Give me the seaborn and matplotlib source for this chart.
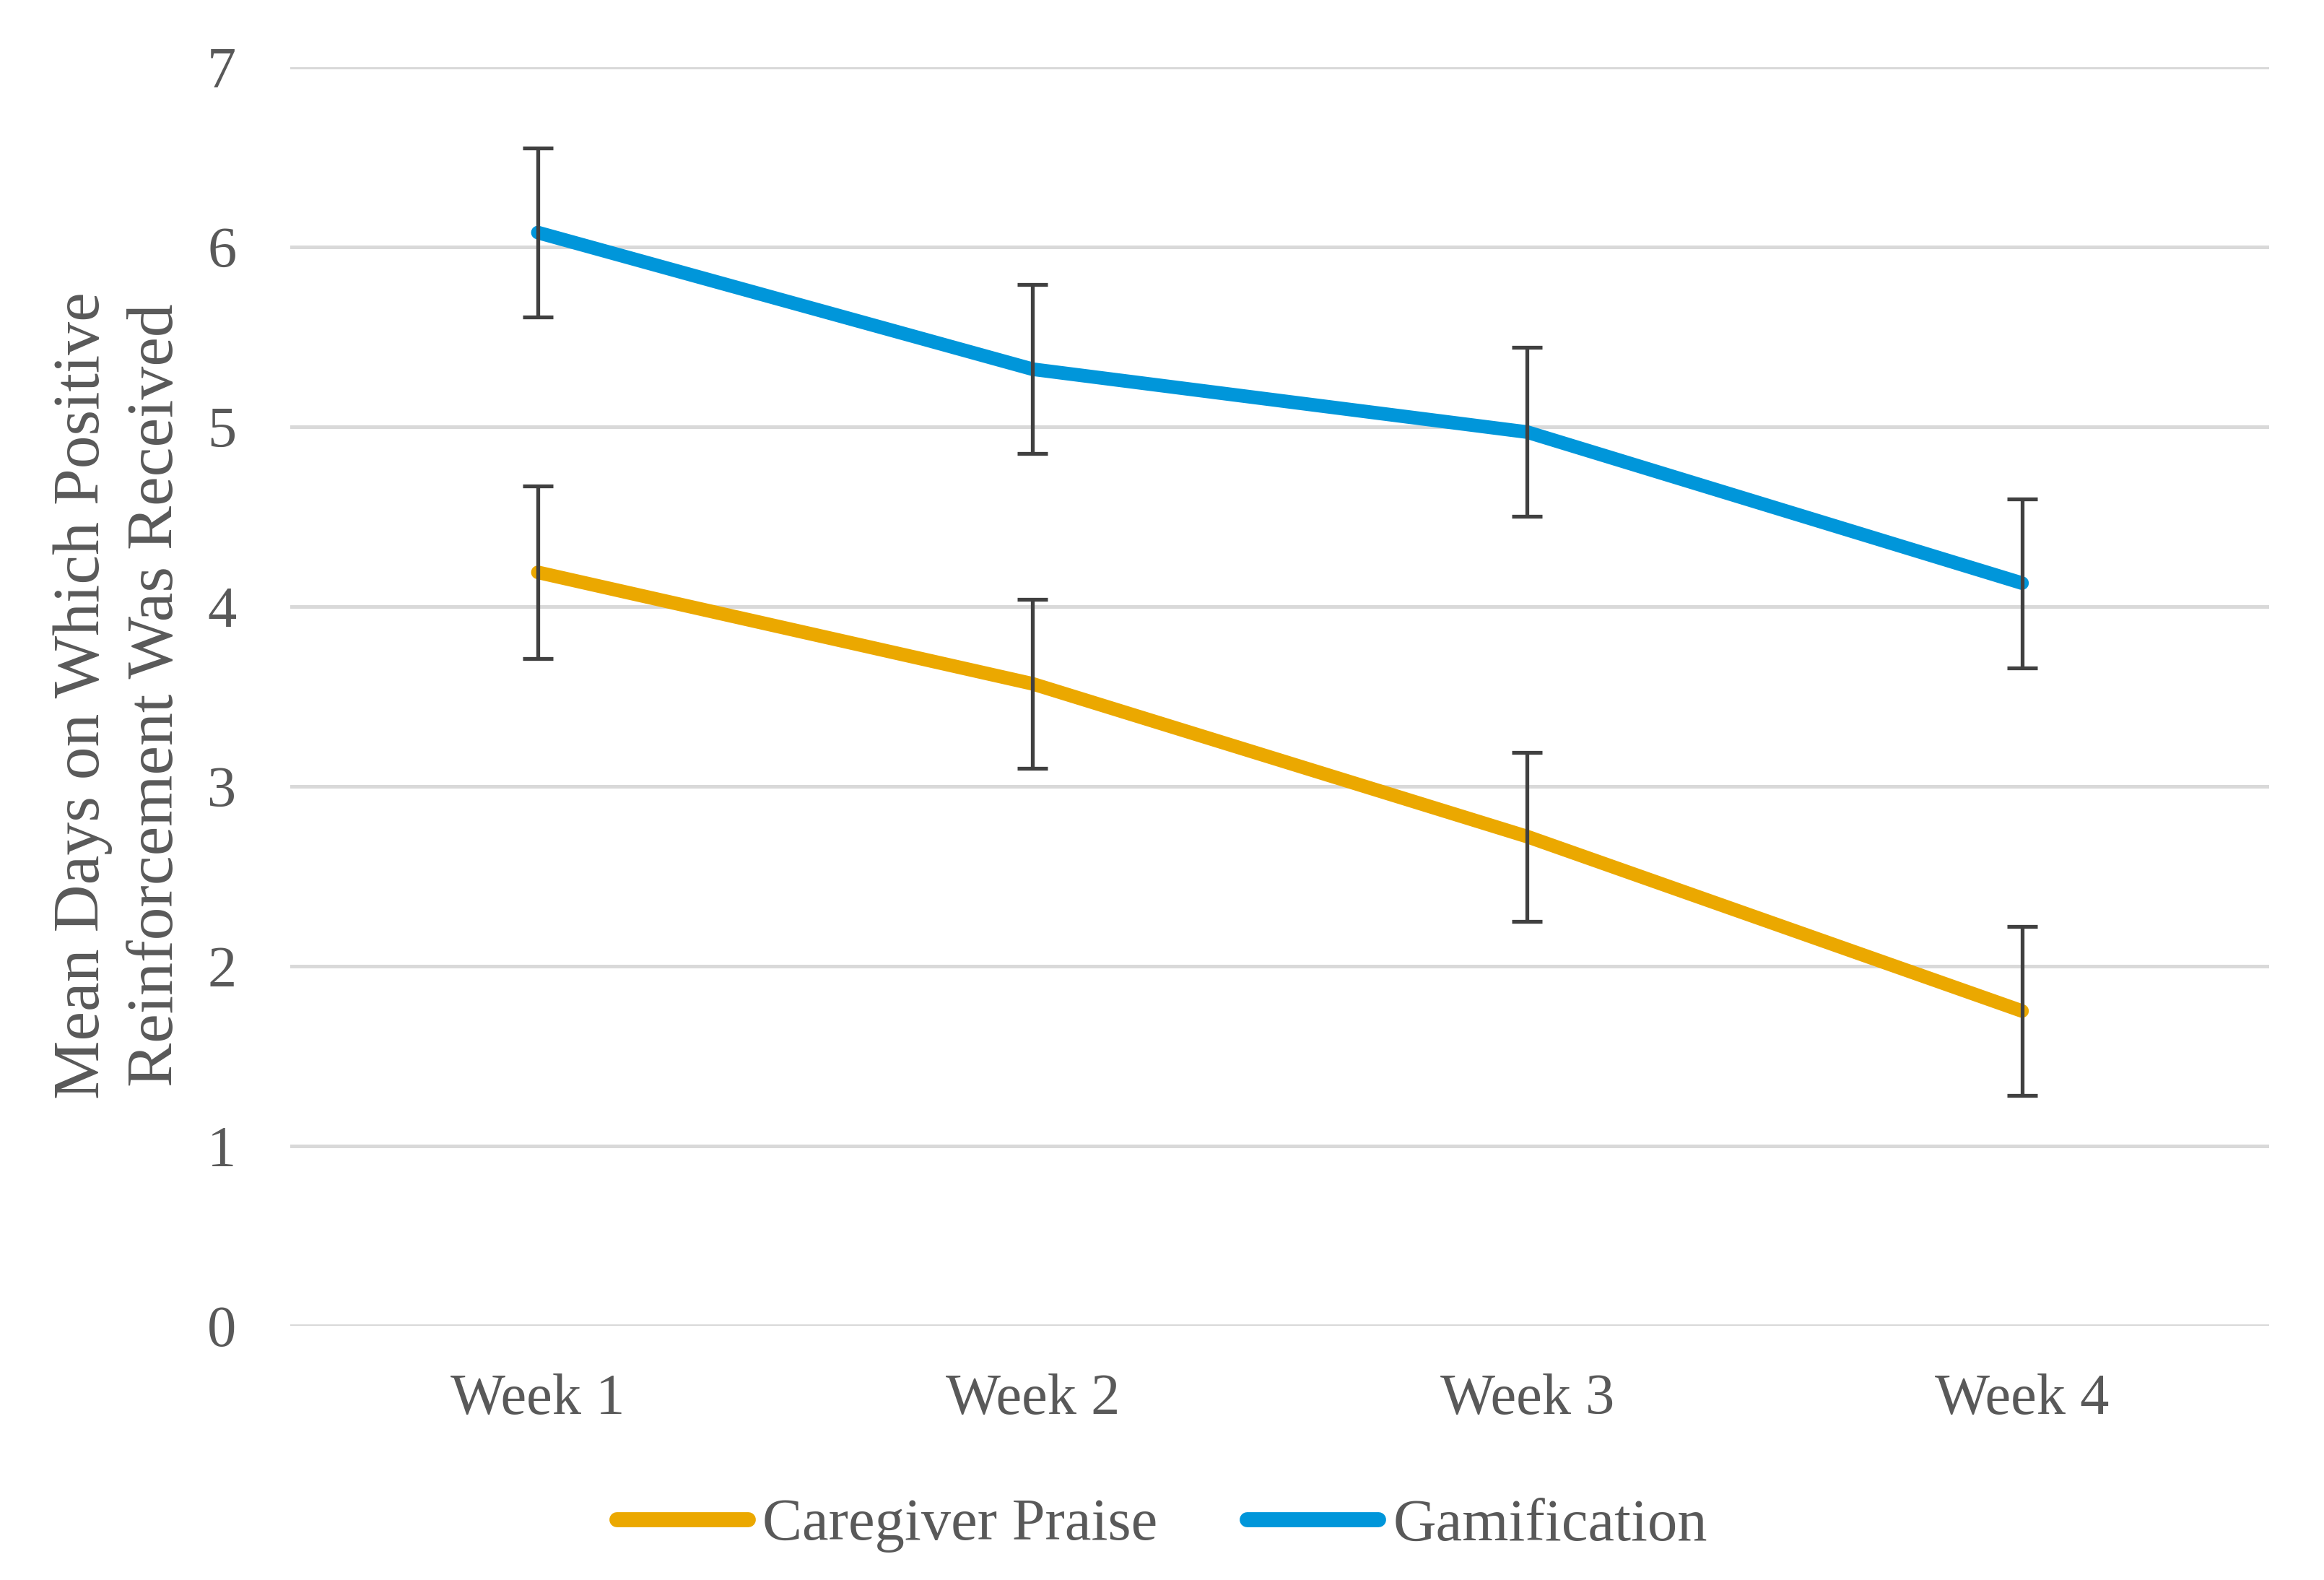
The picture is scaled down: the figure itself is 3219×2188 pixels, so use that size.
import matplotlib
matplotlib.use("Agg")
import matplotlib.pyplot as plt
import seaborn as sns
import pandas as pd

weeks = ["Week 1", "Week 2", "Week 3", "Week 4"]
groups = ["Caregiver Praise", "Gamification"]
praise_mean = [4.19, 3.57, 2.72, 1.75]
praise_err = [0.48, 0.47, 0.47, 0.47]
gam_mean = [6.08, 5.32, 4.97, 4.13]
gam_err = [0.47, 0.47, 0.47, 0.47]
yticks = [0, 1, 2, 3, 4, 5, 6, 7]

colors = {"Caregiver Praise": "#EBA800", "Gamification": "#0096DA"}

df = pd.DataFrame({
    "week": weeks * 2,
    "mean": praise_mean + gam_mean,
    "err": praise_err + gam_err,
    "group": [groups[0]] * 4 + [groups[1]] * 4,
})

sns.set_style("white")
plt.rcParams["font.family"] = ["Liberation Serif", "DejaVu Serif"]

fig = plt.figure(figsize=(3219 / 200, 2188 / 200), dpi=200)
ax = fig.add_axes([0.125, 0.161, 0.8515, 0.7965])

sns.lineplot(data=df, x="week", y="mean", hue="group", palette=colors,
             linewidth=6.8, sort=False, ax=ax, solid_capstyle="round",
             legend=True)

for g in groups:
    sub = df[df["group"] == g]
    ax.errorbar(sub["week"], sub["mean"], yerr=sub["err"], fmt="none",
                ecolor="#404040", elinewidth=1.9, capsize=7.5, capthick=1.9,
                zorder=5)

ax.set_xlim(-0.5, 3.5)
ax.set_ylim(0, 7)
ax.set_yticks(yticks)
ax.yaxis.grid(True, color="#D9D9D9", linewidth=1.8)
ax.xaxis.grid(False)
ax.set_axisbelow(True)
for s in ax.spines.values():
    s.set_visible(False)
ax.tick_params(axis="both", length=0, labelsize=29, colors="#595959")
ax.tick_params(axis="y", pad=27)
ax.tick_params(axis="x", pad=24)
ax.set_xlabel("")
ax.set_ylabel("")

fig.text(0.0515, 0.56, "Mean Days on Which Positive\nReinforcement Was Received",
         rotation=90, ha="center", va="center", fontsize=33, color="#595959",
         linespacing=1.3)

handles, labels = ax.get_legend_handles_labels()
ax.get_legend().remove()
leg = fig.legend(handles, labels, loc="center", bbox_to_anchor=(0.5, 0.0345),
                 ncol=2, frameon=False, fontsize=29.7, handlelength=2.2,
                 handletextpad=0.25, columnspacing=1.5, labelcolor="#595959")
for line in leg.get_lines():
    line.set_linewidth(7.5)
    line.set_solid_capstyle("round")

fig.savefig("out.png", dpi=200, facecolor="white")
